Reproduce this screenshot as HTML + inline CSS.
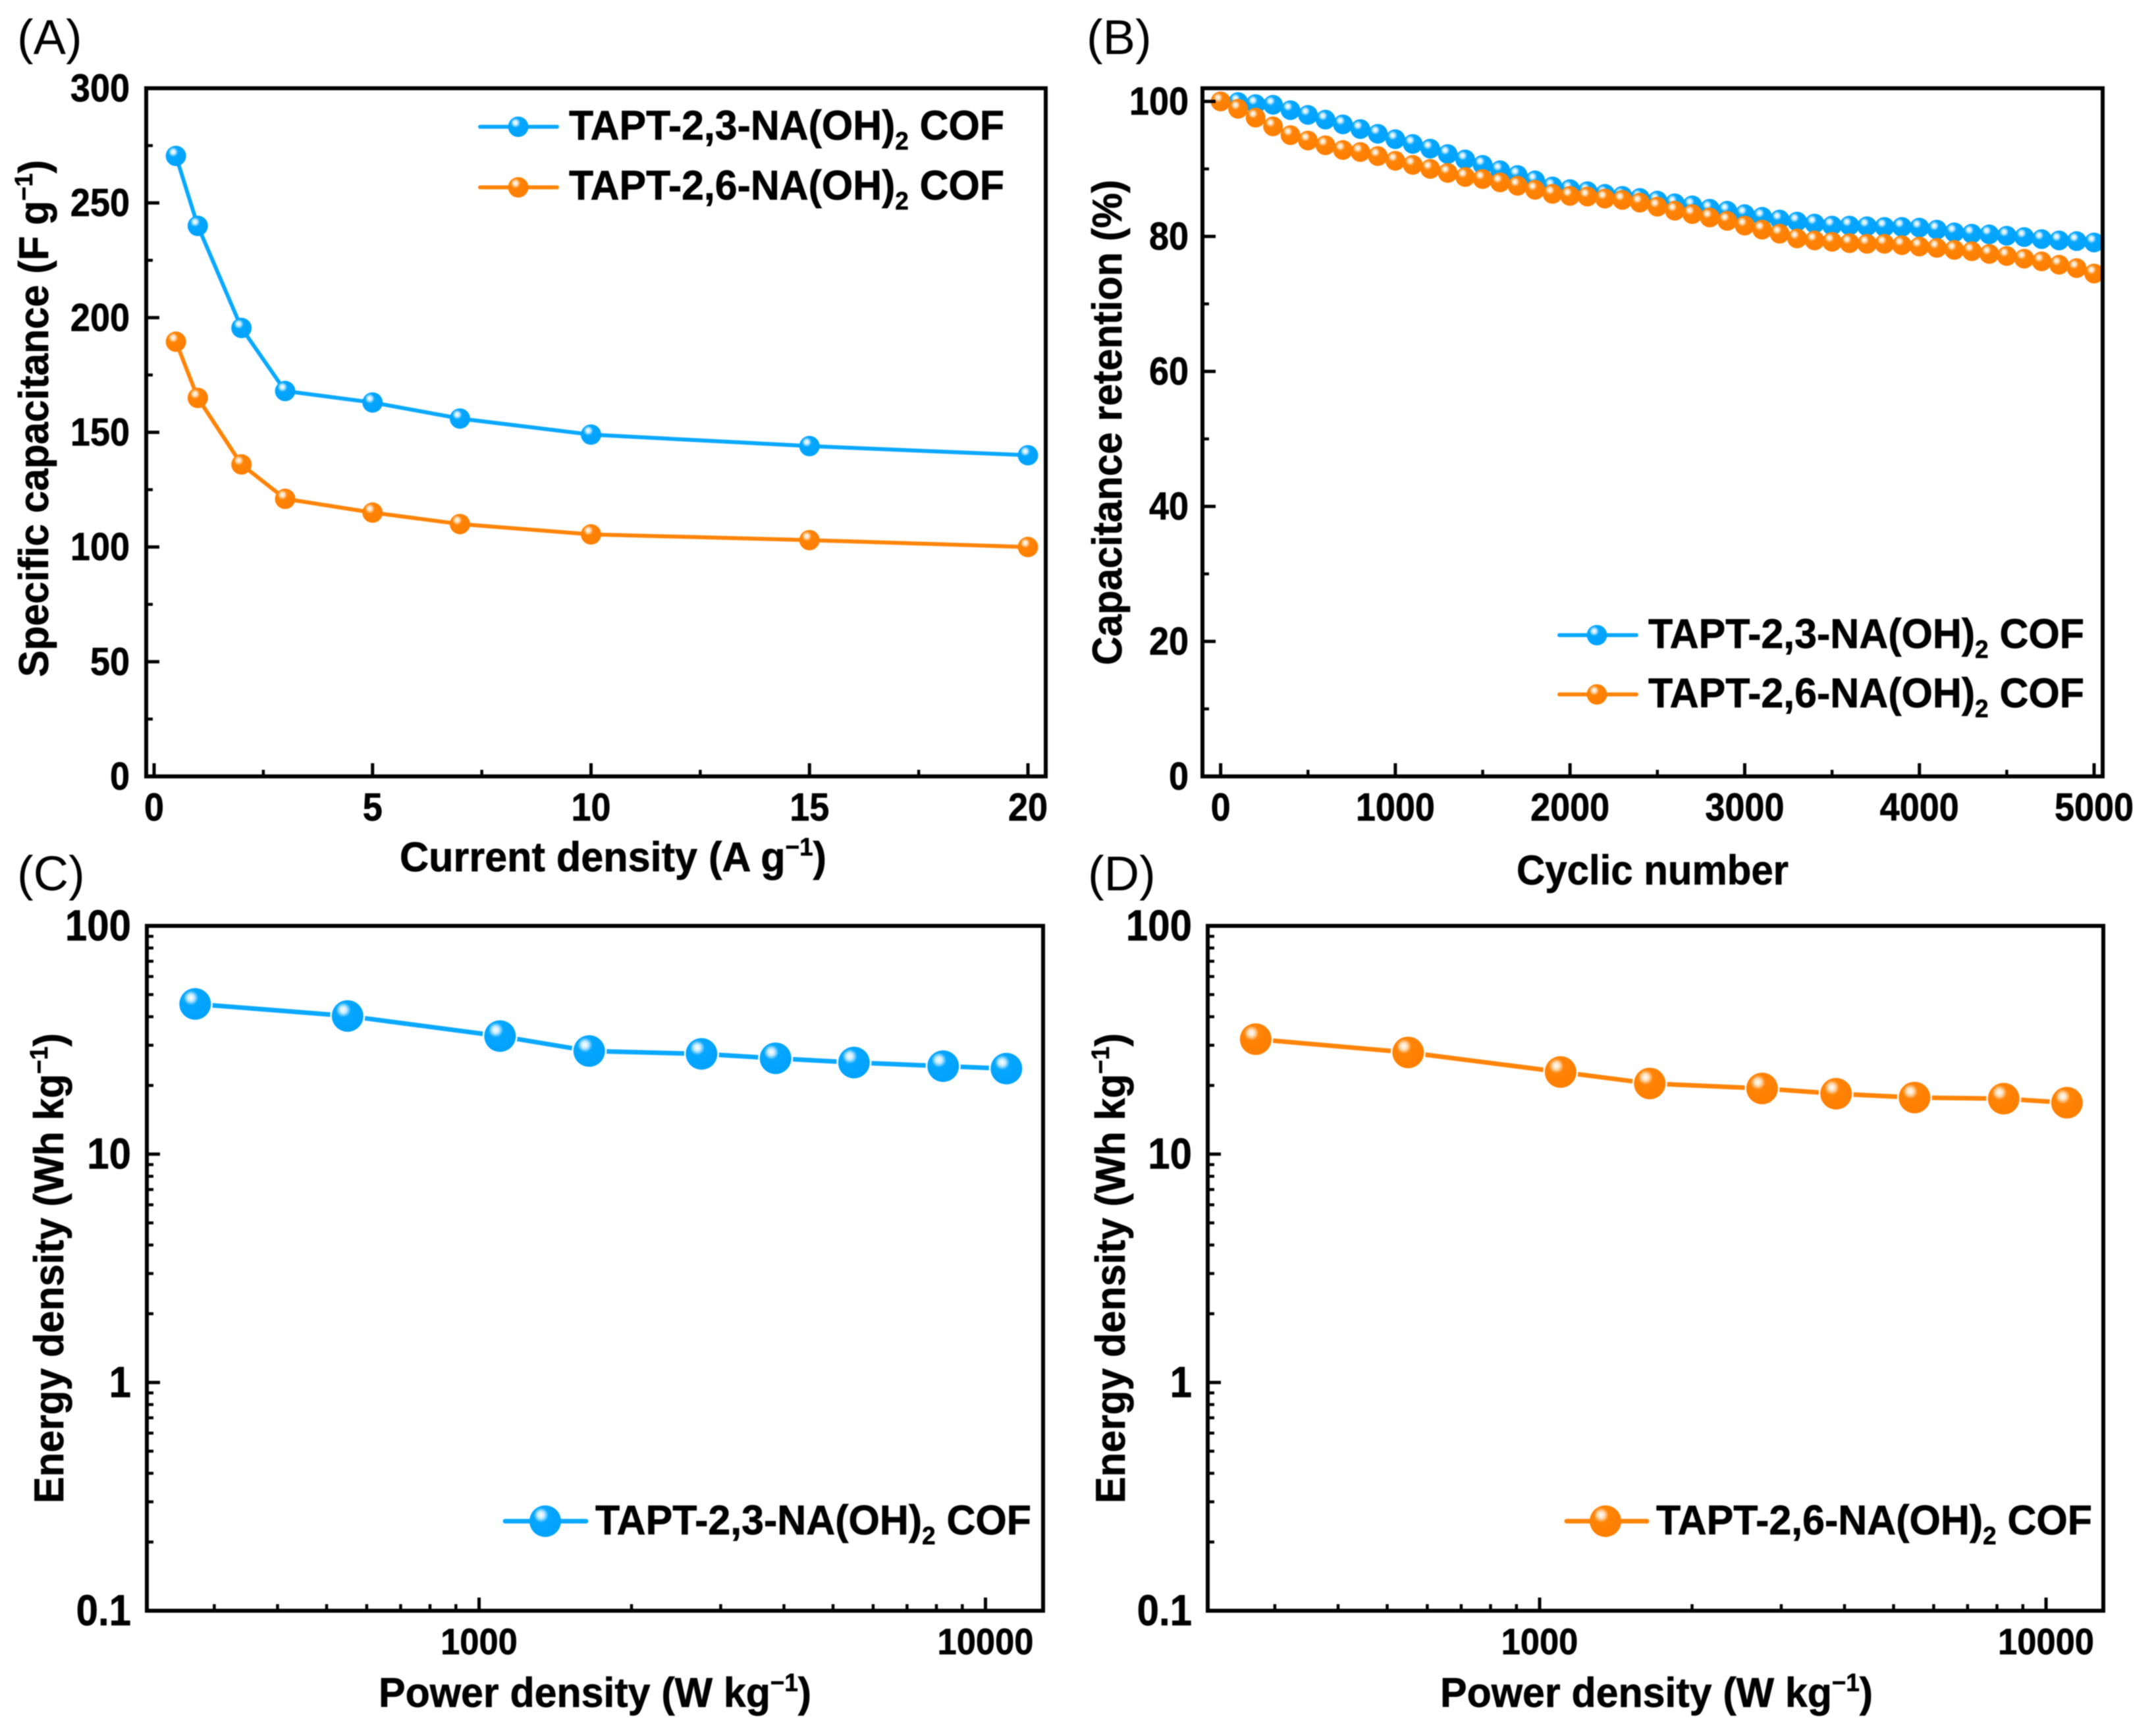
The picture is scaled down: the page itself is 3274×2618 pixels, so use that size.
<!DOCTYPE html>
<html lang="en">
<head>
<meta charset="utf-8">
<title>Capacitance and energy density of TAPT COFs</title>
<style>
html,body{margin:0;padding:0;background:#fff;}
body{width:3274px;height:2618px;overflow:hidden;}
svg{display:block;filter:blur(0.8px);}
text{font-family:"Liberation Sans",sans-serif;font-weight:bold;fill:#000;stroke:#000;stroke-width:0.7px;}
text.letter{font-weight:normal;stroke:none;}
</style>
</head>
<body>
<svg id="figure" xmlns="http://www.w3.org/2000/svg" width="3274" height="2618" viewBox="0 0 3274 2618">
  <defs>
    <radialGradient id="ballBlue" cx="0.38" cy="0.32" r="0.62" fx="0.36" fy="0.3">
      <stop offset="0" stop-color="#ffffff"/>
      <stop offset="0.17" stop-color="#c8ecff"/>
      <stop offset="0.38" stop-color="#06a6ff"/>
      <stop offset="1" stop-color="#00a2fb"/>
    </radialGradient>
    <radialGradient id="ballOrange" cx="0.38" cy="0.32" r="0.62" fx="0.36" fy="0.3">
      <stop offset="0" stop-color="#ffffff"/>
      <stop offset="0.17" stop-color="#ffe0bd"/>
      <stop offset="0.38" stop-color="#ff8306"/>
      <stop offset="1" stop-color="#fd7f00"/>
    </radialGradient>
  </defs>
  <rect width="3274" height="2618" fill="#fff"/>

  <text class="letter" x="26" y="82" font-size="74">(A)</text>
  <text class="letter" x="1650" y="82" font-size="74">(B)</text>
  <text class="letter" x="26" y="1352" font-size="74">(C)</text>
  <text class="letter" x="1652" y="1352" font-size="74">(D)</text>

  <g id="panelA"></g>
  <g id="panelB"></g>
  <g id="panelC"></g>
  <g id="panelD"></g>

  <text transform="translate(73,1028) rotate(-90)" font-size="63" textLength="785" lengthAdjust="spacingAndGlyphs">Specific capacitance (F g<tspan font-size="38" dy="-24">−1</tspan><tspan dy="24">)</tspan></text>
  <text x="607" y="1323" font-size="63" textLength="648" lengthAdjust="spacingAndGlyphs">Current density (A g<tspan font-size="38" dy="-24">−1</tspan><tspan dy="24">)</tspan></text>

  <text transform="translate(1703,1010) rotate(-90)" font-size="63" textLength="737" lengthAdjust="spacingAndGlyphs">Capacitance retention (%)</text>
  <text x="2303" y="1343" font-size="63" textLength="413" lengthAdjust="spacingAndGlyphs">Cyclic number</text>

  <text transform="translate(96,2283) rotate(-90)" font-size="63" textLength="714" lengthAdjust="spacingAndGlyphs">Energy density (Wh kg<tspan font-size="38" dy="-24">−1</tspan><tspan dy="24">)</tspan></text>
  <text x="575" y="2592" font-size="63" textLength="657" lengthAdjust="spacingAndGlyphs">Power density (W kg<tspan font-size="38" dy="-24">−1</tspan><tspan dy="24">)</tspan></text>

  <text transform="translate(1708,2283) rotate(-90)" font-size="63" textLength="714" lengthAdjust="spacingAndGlyphs">Energy density (Wh kg<tspan font-size="38" dy="-24">−1</tspan><tspan dy="24">)</tspan></text>
  <text x="2187" y="2592" font-size="63" textLength="657" lengthAdjust="spacingAndGlyphs">Power density (W kg<tspan font-size="38" dy="-24">−1</tspan><tspan dy="24">)</tspan></text>

  <text x="864" y="212" font-size="63" textLength="661" lengthAdjust="spacingAndGlyphs">TAPT-2,3-NA(OH)<tspan font-size="38" dy="15">2</tspan><tspan dy="-15"> COF</tspan></text>
  <text x="864" y="303" font-size="63" textLength="661" lengthAdjust="spacingAndGlyphs">TAPT-2,6-NA(OH)<tspan font-size="38" dy="15">2</tspan><tspan dy="-15"> COF</tspan></text>
  <text x="2503" y="984" font-size="63" textLength="662" lengthAdjust="spacingAndGlyphs">TAPT-2,3-NA(OH)<tspan font-size="38" dy="15">2</tspan><tspan dy="-15"> COF</tspan></text>
  <text x="2503" y="1074" font-size="63" textLength="662" lengthAdjust="spacingAndGlyphs">TAPT-2,6-NA(OH)<tspan font-size="38" dy="15">2</tspan><tspan dy="-15"> COF</tspan></text>
  <text x="904" y="2330" font-size="63" textLength="662" lengthAdjust="spacingAndGlyphs">TAPT-2,3-NA(OH)<tspan font-size="38" dy="15">2</tspan><tspan dy="-15"> COF</tspan></text>
  <text x="2515" y="2330" font-size="63" textLength="662" lengthAdjust="spacingAndGlyphs">TAPT-2,6-NA(OH)<tspan font-size="38" dy="15">2</tspan><tspan dy="-15"> COF</tspan></text>
</svg>

<script>
// Panel A data
const currentDensity = [0.5, 1, 2, 3, 5, 7, 10, 15, 20];
const capacitanceBlue = [270.5, 240, 195.5, 168, 163, 156, 149, 144, 140];
const capacitanceOrange = [189.5, 165, 136, 121, 115, 110, 105.5, 103, 100];
const ticksAX = ['0', '5', '10', '15', '20'];
const ticksAY = ['0', '50', '100', '150', '200', '250', '300'];

// Panel B data
const cycleNumbers = [0,100,200,300,400,500,600,700,800,900,1000,1100,1200,1300,1400,1500,1600,1700,1800,1900,2000,2100,2200,2300,2400,2500,2600,2700,2800,2900,3000,3100,3200,3300,3400,3500,3600,3700,3800,3900,4000,4100,4200,4300,4400,4500,4600,4700,4800,4900,5000];
const retentionBlue = [100,99.9,99.6,99.5,98.7,98.0,97.3,96.6,95.9,95.2,94.4,93.7,93.0,92.2,91.4,90.6,89.8,89.1,88.3,87.4,87.0,86.7,86.3,86.0,85.7,85.3,84.9,84.6,84.1,83.8,83.3,82.9,82.5,82.2,81.9,81.6,81.6,81.5,81.4,81.4,81.3,81.0,80.6,80.4,80.3,80.1,79.9,79.6,79.4,79.3,79.1];
const retentionOrange = [100,98.9,97.6,96.3,95.0,94.2,93.5,92.8,92.5,91.9,91.2,90.6,90.0,89.4,88.8,88.5,88.0,87.5,86.9,86.3,86.0,85.9,85.6,85.4,85.0,84.4,83.8,83.3,82.8,82.3,81.6,81.0,80.4,79.7,79.4,79.2,79.0,78.9,78.9,78.7,78.5,78.3,78.0,77.8,77.4,77.1,76.7,76.3,75.8,75.3,74.5];
const ticksBX = ['0', '1000', '2000', '3000', '4000', '5000'];
const ticksBY = ['0', '20', '40', '60', '80', '100'];

// Panels C and D data
const powerDensity = [275, 550, 1100, 1650, 2750, 3850, 5500, 8250, 11000];
const energyBlue = [45.5, 40.3, 32.9, 28.3, 27.5, 26.3, 25.2, 24.3, 23.7];
const energyOrange = [31.9, 27.9, 22.9, 20.4, 19.4, 18.4, 17.7, 17.5, 16.8];
const ticksPowerLabels = ['1000', '10000'];
const ticksEnergyLabels = ['0.1', '1', '10', '100'];

const SVGNS = 'http://www.w3.org/2000/svg';
function make(parent, tag, attrs, txt) {
  const n = document.createElementNS(SVGNS, tag);
  for (const k in attrs) n.setAttribute(k, attrs[k]);
  if (txt !== undefined) n.textContent = txt;
  parent.appendChild(n);
  return n;
}
function linear(d0, d1, r0, r1) {
  return v => r0 + (v - d0) * (r1 - r0) / (d1 - d0);
}
function logScale(d0, d1, r0, r1) {
  return v => r0 + (Math.log10(v) - Math.log10(d0)) * (r1 - r0) / (Math.log10(d1) - Math.log10(d0));
}
// advance width of a numeric label in em for the bold face
function numEm(s) {
  let w = 0;
  for (const c of s) w += c === '.' ? 0.278 : 0.556;
  return w;
}
function frame(g, L, T, R, B) {
  const el = make(g, 'rect', {x: L, y: T, width: R - L, height: B - T, fill: 'none', stroke: '#000', 'stroke-width': 6});
  
  
}
function tickX(g, x, B, len) {
  const el = make(g, 'line', {x1: x, x2: x, y1: B, y2: B - len, stroke: '#000', 'stroke-width': len > 12 ? 5 : 4.5});
  
  
}
function tickY(g, y, L, len) {
  const el = make(g, 'line', {y1: y, y2: y, x1: L, x2: L + len, stroke: '#000', 'stroke-width': len > 12 ? 5 : 4.5});
  
  
}
function labelX(g, x, y, size, widthSize, s) {
  const el = make(g, 'text', {x: x, y: y, 'font-size': size, 'text-anchor': 'middle', textLength: numEm(s) * widthSize, lengthAdjust: 'spacingAndGlyphs'}, s);
  
  
}
function labelY(g, x, y, size, widthSize, s) {
  const el = make(g, 'text', {x: x, y: y, 'font-size': size, 'text-anchor': 'end', textLength: numEm(s) * widthSize, lengthAdjust: 'spacingAndGlyphs'}, s);
  
  
}
function series(g, xs, ys, sx, sy, color, grad, r, lw, halo, name) {
  const pts = xs.map((v, i) => sx(v).toFixed(1) + ',' + sy(ys[i]).toFixed(1)).join(' ');
  const line = make(g, 'polyline', {points: pts, fill: 'none', stroke: color, 'stroke-width': lw, 'stroke-linejoin': 'round'});
  
  
  xs.forEach((v, i) => {
    const attrs = {cx: sx(v), cy: sy(ys[i]), r: r, fill: 'url(#' + grad + ')'};
    if (halo) {
      attrs.stroke = '#fff';
      attrs['stroke-width'] = 5;
      attrs.r = r + 2;
      attrs['paint-order'] = 'stroke';
    }
    const dot = make(g, 'circle', attrs);
    
    
  });
}
function legendKey(g, x1, x2, mx, y, color, grad, r, lw, name) {
  const line = make(g, 'line', {x1: x1, x2: x2, y1: y, y2: y, stroke: color, 'stroke-width': lw, 'stroke-linecap': 'round'});
  
  
  const dot = make(g, 'circle', {cx: mx, cy: y, r: r, fill: 'url(#' + grad + ')'});
  
  
}

const BLUE = '#0aa8ff';
const ORANGE = '#ff8408';

// Panel A
(function () {
  const g = document.getElementById('panelA');
  const L = 222, R = 1588, T = 134, B = 1179;
  const sx = linear(0, 20, 234, 1561);
  const sy = linear(0, 300, 1179, 134);
  series(g, currentDensity, capacitanceBlue, sx, sy, BLUE, 'ballBlue', 15.5, 6, false, 'capacitance-blue');
  series(g, currentDensity, capacitanceOrange, sx, sy, ORANGE, 'ballOrange', 15.5, 6, false, 'capacitance-orange');
  ticksAX.forEach(s => { const v = +s; tickX(g, sx(v), B, 20); labelX(g, sx(v), 1246, 59, 54, s); });
  for (let v = 2.5; v < 20; v += 5) tickX(g, sx(v), B, 10);
  ticksAY.forEach(s => { const v = +s; tickY(g, sy(v), L, 20); labelY(g, 197, sy(v) + 20, 59, 54, s); });
  for (let v = 25; v < 300; v += 50) tickY(g, sy(v), L, 10);
  frame(g, L, T, R, B);
  legendKey(g, 729, 846, 787, 192.5, BLUE, 'ballBlue', 15.5, 6, 'legend-a-blue');
  legendKey(g, 729, 846, 787, 284.5, ORANGE, 'ballOrange', 15.5, 6, 'legend-a-orange');
})();

// Panel B
(function () {
  const g = document.getElementById('panelB');
  const L = 1826, R = 3193, T = 134, B = 1179;
  const sx = linear(0, 5000, 1853.6, 3180);
  const sy = linear(0, 100, 1179, 154);
  series(g, cycleNumbers, retentionBlue, sx, sy, BLUE, 'ballBlue', 15, 5, false, 'retention-blue');
  series(g, cycleNumbers, retentionOrange, sx, sy, ORANGE, 'ballOrange', 15, 5, false, 'retention-orange');
  ticksBX.forEach(s => { const v = +s; tickX(g, sx(v), B, 20); labelX(g, sx(v), 1246, 59, 54, s); });
  for (let v = 500; v < 5000; v += 1000) tickX(g, sx(v), B, 10);
  ticksBY.forEach(s => { const v = +s; tickY(g, sy(v), L, 20); labelY(g, 1805, sy(v) + 20, 59, 54, s); });
  for (let v = 10; v < 100; v += 20) tickY(g, sy(v), L, 10);
  frame(g, L, T, R, B);
  legendKey(g, 2368, 2485, 2425, 964.5, BLUE, 'ballBlue', 15.5, 6, 'legend-b-blue');
  legendKey(g, 2368, 2485, 2425, 1054.5, ORANGE, 'ballOrange', 15.5, 6, 'legend-b-orange');
})();

// Log panels C and D
function logPanel(id, L, R, x1000, ys, color, grad, rightLabel, lx1, lx2, lmx, nm) {
  const g = document.getElementById(id);
  const T = 1406, B = 2446;
  const sx = logScale(1000, 10000, x1000, x1000 + 769);
  const sy = logScale(0.1, 100, B, T);
  series(g, powerDensity, ys, sx, sy, color, grad, 22, 7, true, nm);
  [200, 300, 400, 500, 600, 700, 800, 900, 2000, 3000, 4000, 5000, 6000, 7000, 8000, 9000].forEach(v => {
    const x = sx(v);
    if (x > L + 3 && x < R - 3) tickX(g, x, B, 10);
  });
  ticksPowerLabels.forEach(s => { const v = +s; tickX(g, sx(v), B, 20); labelX(g, sx(v), 2512, 56, 52.5, s); });
  ticksEnergyLabels.forEach(s => { const v = +s; tickY(g, sy(v), L, 20); labelY(g, rightLabel, sy(v) + 22, 66, 60, s); });
  [0.1, 1, 10].forEach(d => {
    [2, 3, 4, 5, 6, 7, 8, 9].forEach(m => tickY(g, sy(d * m), L, 10));
  });
  frame(g, L, T, R, B);
  legendKey(g, lx1, lx2, lmx, 2310, color, grad, 24, 7, nm + '-legend');
}
logPanel('panelC', 223, 1584, 727.5, energyBlue, BLUE, 'ballBlue', 199, 767, 890, 828, 'energy-blue');
logPanel('panelD', 1834, 3194, 2338, energyOrange, ORANGE, 'ballOrange', 1810, 2379, 2501, 2438, 'energy-orange');
</script>
</body>
</html>
